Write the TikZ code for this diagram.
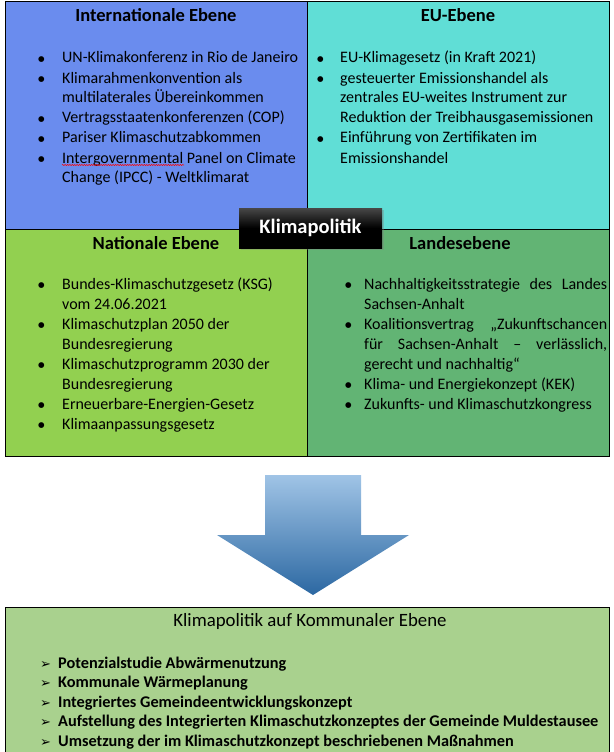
\documentclass[tikz,border=0pt]{standalone}
\usepackage{fontspec}
\setmainfont{Carlito}
\newfontfamily\symfont{DejaVu Sans}
\usepackage{xcolor}
\usepackage{tikz}
\usetikzlibrary{
    calc,
    decorations.pathmorphing,
    positioning,
    shadows
}

\definecolor{intlblue}{RGB}{106,140,238}
\definecolor{eucyan}{RGB}{96,222,214}
\definecolor{natgreen}{RGB}{146,208,80}
\definecolor{landgreen}{RGB}{98,180,116}
\definecolor{kommgreen}{RGB}{169,209,142}
\definecolor{arrowtop}{RGB}{160,196,230}
\definecolor{arrowmid}{RGB}{96,158,214}
\definecolor{arrowbottom}{RGB}{44,104,162}

\newlength{\bulletgap}
\newcommand{\litem}{\par\noindent\hangindent=\bulletgap\hangafter=1\makebox[\bulletgap][l]{\raisebox{1.5pt}{\symfont\fontsize{7.5}{8}\selectfont ●}}}
\newcommand{\kitem}{\par\noindent\hangindent=18pt\hangafter=1\makebox[18pt][l]{{\symfont\fontsize{13}{13}\selectfont ➢}}}
\hyphenpenalty=10000
\exhyphenpenalty=10000

\tikzset{
    level box/.style={
        draw=black,
        line width=1pt,
        inner sep=0pt,
        minimum width=302pt,
        minimum height=227pt
    },
    level title/.style={
        anchor=base,
        inner sep=0pt,
        font=\fontsize{18.5}{20}\selectfont\bfseries
    },
    bullet gap/.code={\setlength{\bulletgap}{#1}},
    level list/.style={
        anchor=base west,
        inner sep=0pt,
        text width=#1,
        align=flush left,
        font=\fontsize{16}{20}\selectfont
    },
    politik box/.style={
        top color=black!72,
        bottom color=black,
        middle color=black,
        text=white,
        minimum width=143pt,
        minimum height=40pt,
        inner sep=0pt,
        font=\fontsize{20.5}{22}\selectfont\bfseries,
        drop shadow={shadow xshift=1.5pt, shadow yshift=-1.5pt, opacity=0.35}
    },
    komm box/.style={
        draw=black,
        line width=1pt,
        fill=kommgreen,
        inner sep=0pt,
        minimum width=604pt,
        minimum height=146pt
    },
    komm list/.style={
        anchor=base west,
        inner sep=0pt,
        text width=560pt,
        align=flush left,
        font=\fontsize{16.3}{19.5}\selectfont\bfseries
    },
    spell mark/.style={
        draw=red,
        line width=0.5pt,
        decorate,
        decoration={snake, amplitude=0.6pt, segment length=2.4pt}
    }
}

\begin{document}
\begin{tikzpicture}[x=1pt, y=-1pt]
    \useasboundingbox (0,0) rectangle (613,752);

    % the four levels
    \node[level box, fill=intlblue] (intl) at (156,115.5) {};
    \node[level box, fill=eucyan] (eu) at (458,115.5) {};
    \node[level box, fill=natgreen] (national) at (156,343) {};
    \node[level box, fill=landgreen] (land) at (458,343) {};

    \node[level title] (intltitle) at ([yshift=-20pt]intl.north) {Internationale Ebene};
    \node[level title] (eutitle) at ([yshift=-20pt]eu.north) {EU-Ebene};
    \node[level title] (nattitle) at ([yshift=-20pt]national.north) {Nationale Ebene};
    \node[level title] (landtitle) at ([xshift=2pt, yshift=-20pt]land.north) {Landesebene};

    \node[level list=280pt, bullet gap=24pt] (intllist) at (38,43) {%
        \litem UN-Klimakonferenz in Rio de Janeiro
        \litem Klimarahmenkonvention als\linebreak multilaterales Übereinkommen
        \litem Vertragsstaatenkonferenzen (COP)
        \litem Pariser Klimaschutzabkommen
        \litem Intergovernmental Panel on Climate\linebreak Change (IPCC) - Weltklimarat\par};
    \draw[spell mark] (62,165) -- (184,165);
    \node[level list=290pt, bullet gap=23pt] (eulist) at (317,43) {%
        \litem EU-Klimagesetz (in Kraft 2021)
        \litem gesteuerter Emissionshandel als\linebreak zentrales EU-weites Instrument zur\linebreak Reduktion der Treibhausgasemissionen
        \litem Einführung von Zertifikaten im\linebreak Emissionshandel\par};
    \node[level list=280pt, bullet gap=24pt] (natlist) at (38,269) {%
        \litem Bundes-Klimaschutzgesetz (KSG)\linebreak vom 24.06.2021
        \litem Klimaschutzplan 2050 der\linebreak Bundesregierung
        \litem Klimaschutzprogramm 2030 der\linebreak Bundesregierung
        \litem Erneuerbare-Energien-Gesetz
        \litem Klimaanpassungsgesetz\par};
    \node[level list=262pt, bullet gap=19pt, align=justify] (landlist) at (345,269) {%
        \litem Nachhaltigkeitsstrategie des Landes\linebreak Sachsen-Anhalt
        \litem Koalitionsvertrag „Zukunftschancen\linebreak für Sachsen-Anhalt – verlässlich,\linebreak gerecht und nachhaltig“
        \litem Klima- und Energiekonzept (KEK)
        \litem Zukunfts- und Klimaschutzkongress\par};

    \node[politik box] (politik) at (310.5,228) {Klimapolitik};

    % block arrow down to the municipal level
    \coordinate (arrowtip) at (313,595);
    \shade[top color=arrowtop, middle color=arrowmid, bottom color=arrowbottom]
        (265,475) -- (361,475) -- (361,535) -- (409,535) -- (arrowtip)
        -- (217,535) -- (265,535) -- cycle;

    \node[komm box] (kommunal) at (307,680) {};
    \node[anchor=base, inner sep=0pt, font=\fontsize{18.8}{20}\selectfont] (kommtitle)
        at ([xshift=3pt, yshift=-20pt]kommunal.north) {Klimapolitik auf Kommunaler Ebene};
    \node[komm list] (kommlist) at (40,648.5) {%
        \kitem Potenzialstudie Abwärmenutzung
        \kitem Kommunale Wärmeplanung
        \kitem Integriertes Gemeindeentwicklungskonzept
        \kitem Aufstellung des Integrierten Klimaschutzkonzeptes der Gemeinde Muldestausee
        \kitem Umsetzung der im Klimaschutzkonzept beschriebenen Maßnahmen\par};
\end{tikzpicture}
\end{document}
